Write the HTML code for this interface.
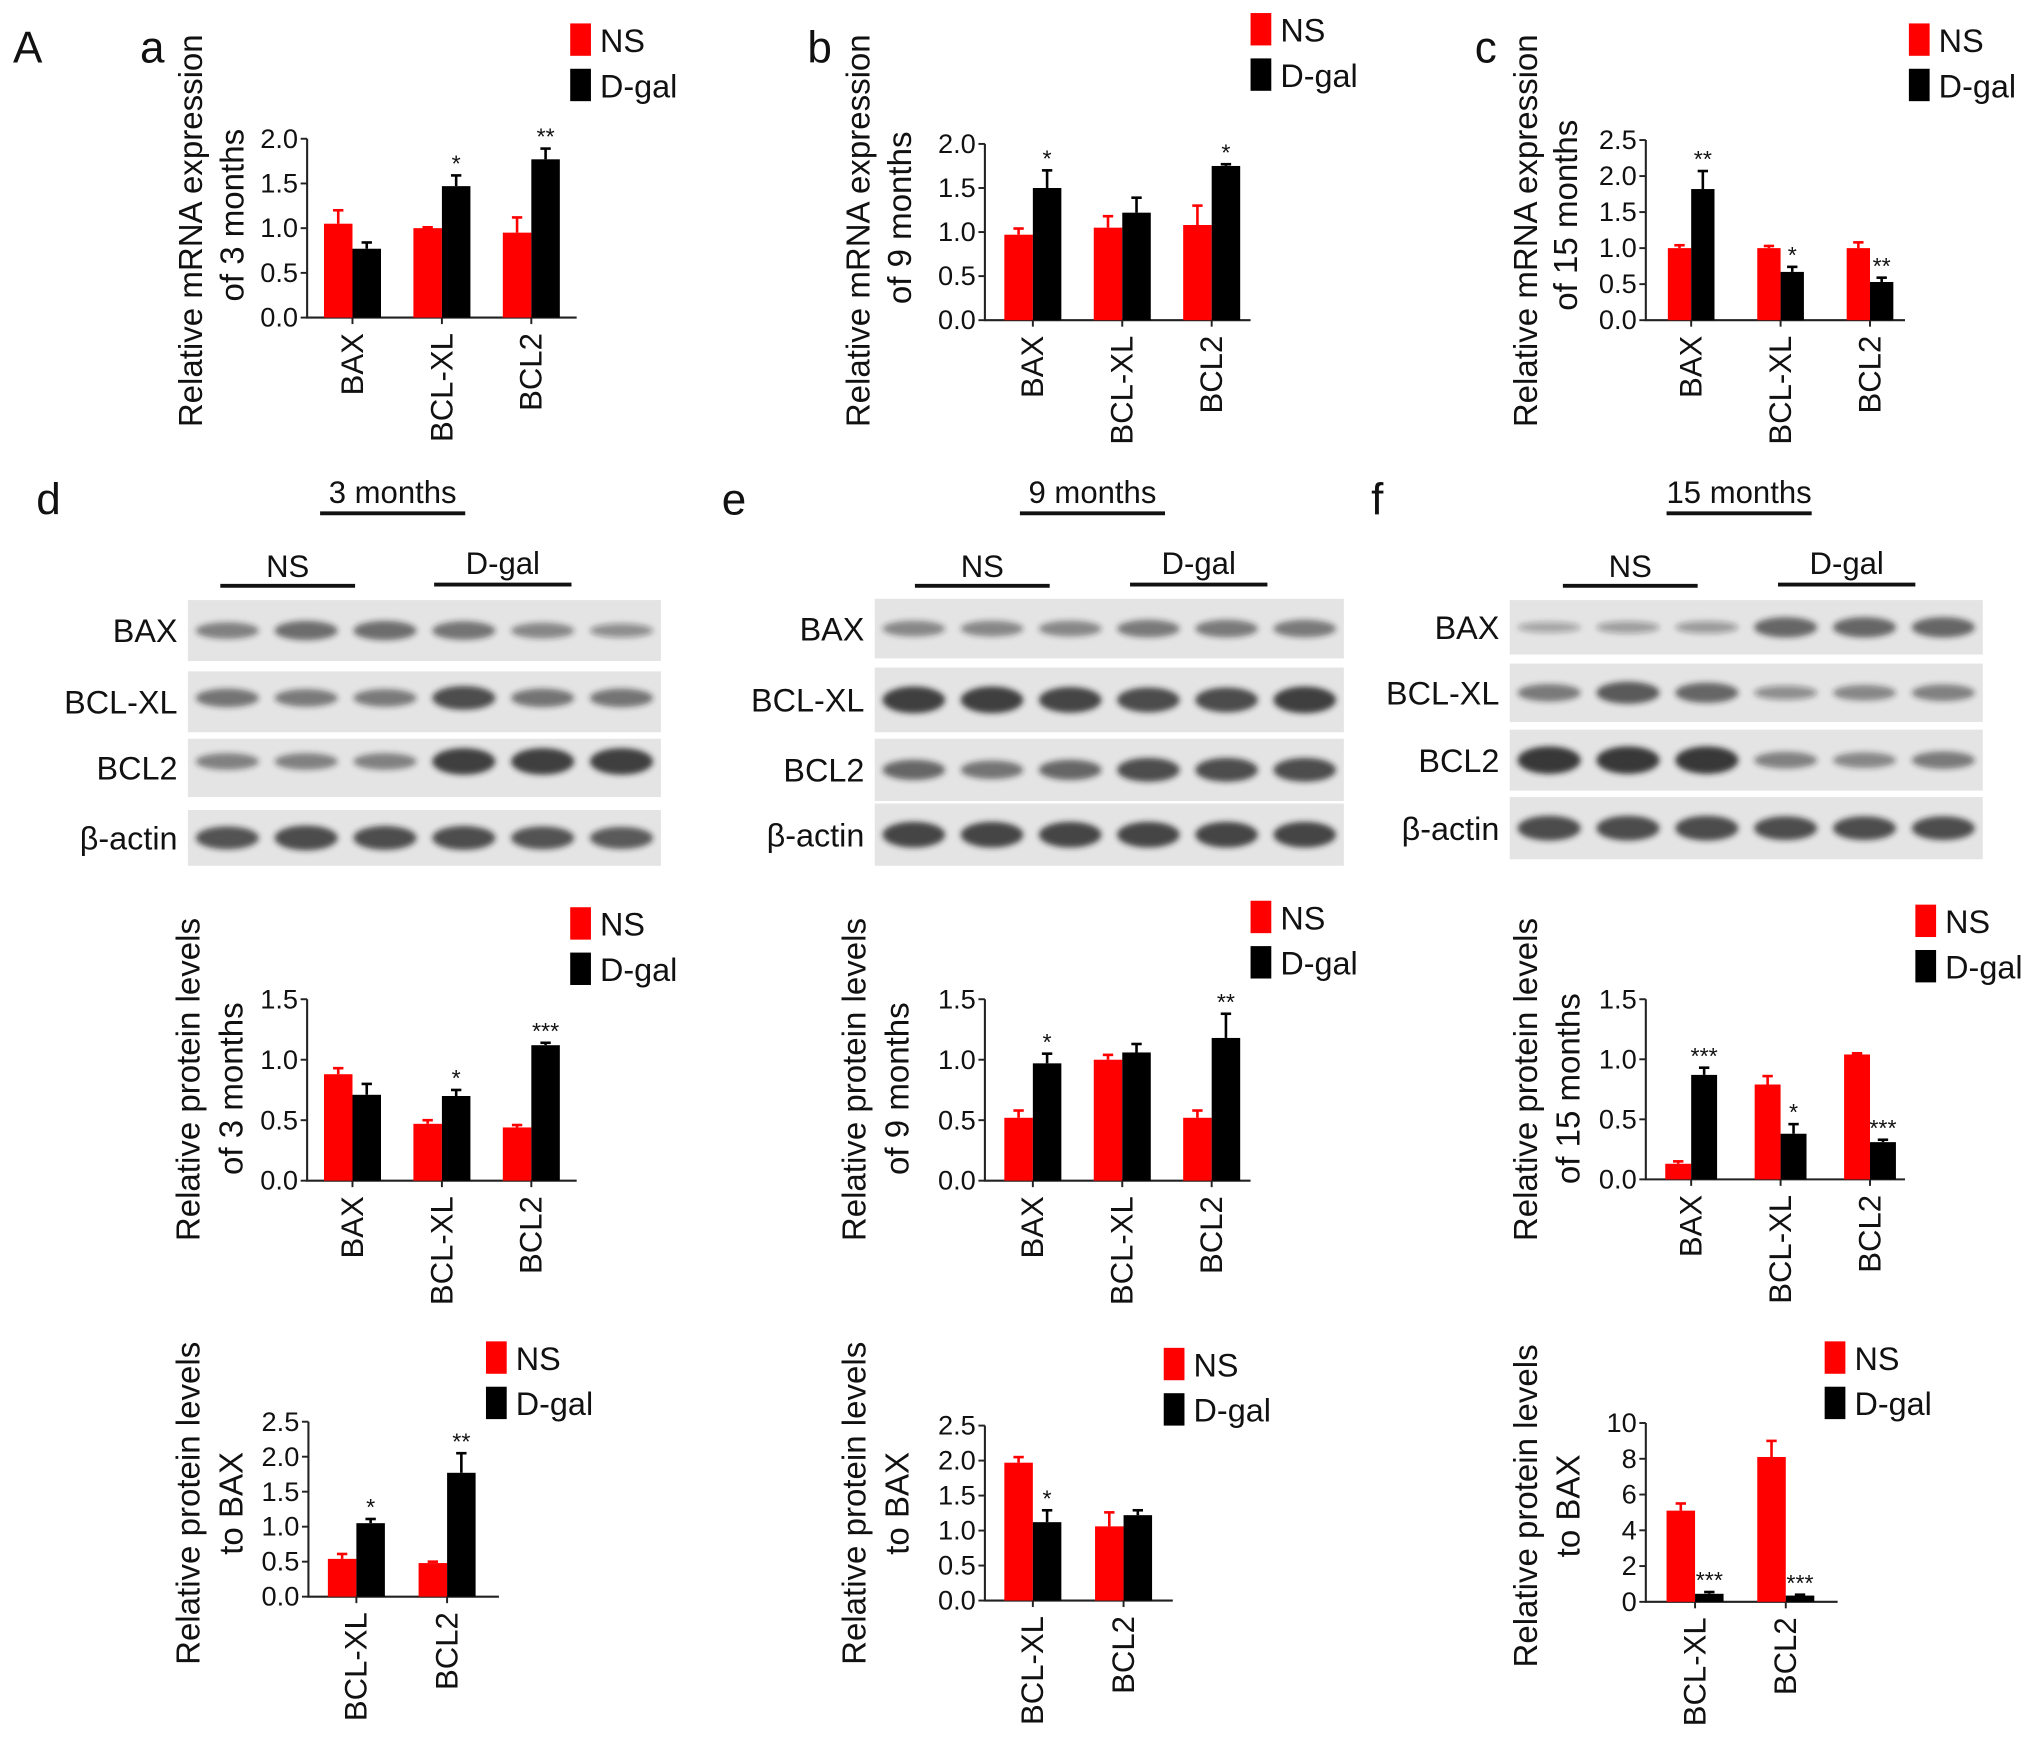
<!DOCTYPE html>
<html><head><meta charset="utf-8"><style>
html,body{margin:0;padding:0;background:#fff}
svg{display:block}
text{font-family:"Liberation Sans",Arial,sans-serif;fill:#111}
</style></head><body>
<svg id="fig" xmlns="http://www.w3.org/2000/svg" width="2032" height="1738" viewBox="0 0 1568 1341">
<defs><filter id="blur" x="-20%" y="-50%" width="140%" height="200%"><feGaussianBlur stdDeviation="2.2"/></filter></defs>
<g id="root"></g>
</svg>
<script>
// ---- data ----
const cats3 = ['BAX','BCL-XL','BCL2'];
const cats2 = ['BCL-XL','BCL2'];
const ticksMrna = [0,0.5,1.0,1.5,2.0];
const ticksMrnaC = [0,0.5,1.0,1.5,2.0,2.5];
const ticksProt = [0,0.5,1.0,1.5];
const ticksRatio = [0,0.5,1.0,1.5,2.0,2.5];
const ticksRatioF = [0,2,4,6,8,10];
// a
const nsA=[1.05,1.0,0.95], nsErrA=[0.15,0.01,0.17], dgA=[0.77,1.47,1.77], dgErrA=[0.07,0.12,0.12], starsA=['','*','**'];
// b
const nsB=[0.97,1.05,1.08], nsErrB=[0.07,0.13,0.22], dgB=[1.5,1.22,1.75], dgErrB=[0.2,0.17,0.02], starsB=['*','','*'];
// c
const nsC=[1.0,1.0,1.0], nsErrC=[0.04,0.03,0.08], dgC=[1.82,0.67,0.53], dgErrC=[0.25,0.07,0.06], starsC=['**','*','**'];
// d protein
const nsD=[0.88,0.47,0.44], nsErrD=[0.05,0.03,0.02], dgD=[0.71,0.70,1.12], dgErrD=[0.09,0.05,0.02], starsD=['','*','***'];
// e protein
const nsE=[0.52,1.0,0.52], nsErrE=[0.06,0.04,0.06], dgE=[0.97,1.06,1.18], dgErrE=[0.08,0.07,0.2], starsE=['*','','**'];
// f protein
const nsF=[0.13,0.79,1.04], nsErrF=[0.02,0.07,0.01], dgF=[0.87,0.38,0.31], dgErrF=[0.06,0.08,0.02], starsF=['***','*','***'];
// ratios
const nsRD=[0.54,0.48], nsErrRD=[0.07,0.02], dgRD=[1.05,1.77], dgErrRD=[0.06,0.28], starsRD=['*','**'];
const nsRE=[1.97,1.06], nsErrRE=[0.08,0.2], dgRE=[1.12,1.22], dgErrRE=[0.17,0.07], starsRE=['*',''];
const nsRF=[5.1,8.1], nsErrRF=[0.4,0.9], dgRF=[0.45,0.35], dgErrRF=[0.1,0.05], starsRF=['***','***'];

const NS='http://www.w3.org/2000/svg';
const root=document.getElementById('root');
function el(tag,attrs,parent,txt){const e=document.createElementNS(NS,tag);for(const k in attrs)e.setAttribute(k,attrs[k]);if(txt!==undefined)e.textContent=txt;(parent||root).appendChild(e);return e;}

function chart(name,L,cats,ns,nsErr,dg,dgErr,stars,ticks,titles){
  const g=el('g',{});
  
  
  const max=ticks[ticks.length-1];
  const y=v=>L.yBot-(v/max)*(L.yBot-L.yTop);
  const ax=el('path',{d:`M${L.x0} ${L.yTop}V${L.yBot}H${L.xEnd}`,stroke:'#222','stroke-width':1.6,fill:'none'},g);
  
  
  ticks.forEach(t=>{
    el('line',{x1:L.x0-5,x2:L.x0,y1:y(t),y2:y(t),stroke:'#222','stroke-width':1.5},g);
    const tl=el('text',{x:L.x0-7,y:y(t)+7,'text-anchor':'end','font-size':21,fill:'#333'},g,Number.isInteger(max)&&max>5?String(t):t.toFixed(1));
    
    
  });
  cats.forEach((c,i)=>{
    const cx=L.c0+i*L.sp;
    el('line',{x1:cx,x2:cx,y1:L.yBot,y2:L.yBot+5,stroke:'#222','stroke-width':1.5},g);
    const r=el('rect',{x:cx-L.bw,y:y(ns[i]),width:L.bw,height:L.yBot-y(ns[i]),fill:'#ff0000'},g);
    
    
    const b=el('rect',{x:cx,y:y(dg[i]),width:L.bw,height:L.yBot-y(dg[i]),fill:'#000'},g);
    
    
    [[cx-L.bw/2,ns[i],nsErr[i],'#ff0000'],[cx+L.bw/2,dg[i],dgErr[i],'#000']].forEach(([ex,v,e,col])=>{
      if(e>0.005){
        el('line',{x1:ex,x2:ex,y1:y(v),y2:y(v+e),stroke:col,'stroke-width':2},g);
        el('line',{x1:ex-4,x2:ex+4,y1:y(v+e),y2:y(v+e),stroke:col,'stroke-width':2},g);
      }
    });
    if(stars[i]){
      const s=el('text',{x:cx+L.bw/2,y:y(dg[i]+dgErr[i])-3,'text-anchor':'middle','font-size':18},g,stars[i]);
      
      
    }
    const cl=el('text',{transform:`translate(${cx+8},${L.yBot+12}) rotate(-90)`,'text-anchor':'end','font-size':24},g,c);
    
    
  });
  titles.forEach((t,k)=>{
    const tt=el('text',{transform:`translate(${L.tx[k]},${L.ty[k]}) rotate(-90)`,'text-anchor':'middle','font-size':25.5},g,t);
    
    
  });
  // legend
  const lg=el('g',{},g);
  
  
  el('rect',{x:L.lx,y:L.ly,width:16,height:25,fill:'#ff0000'},lg);
  el('text',{x:L.lx+23,y:L.ly+22,'font-size':25},lg,'NS');
  el('rect',{x:L.lx,y:L.ly+35,width:16,height:25,fill:'#000'},lg);
  el('text',{x:L.lx+23,y:L.ly+57,'font-size':25},lg,'D-gal');
}

chart('chart-a-mrna-3m',{x0:237,yTop:107,yBot:245,xEnd:445,c0:272,sp:69,bw:22,lx:440,ly:18,tx:[156,188],ty:[178,166]},cats3,nsA,nsErrA,dgA,dgErrA,starsA,ticksMrna,['Relative mRNA expression','of 3 months']);
chart('chart-b-mrna-9m',{x0:760,yTop:111,yBot:247,xEnd:965,c0:797,sp:69,bw:22,lx:965,ly:10,tx:[671,703],ty:[178,168]},cats3,nsB,nsErrB,dgB,dgErrB,starsB,ticksMrna,['Relative mRNA expression','of 9 months']);
chart('chart-c-mrna-15m',{x0:1270,yTop:108,yBot:247,xEnd:1470,c0:1305,sp:69,bw:18,lx:1473,ly:18,tx:[1186,1217],ty:[178,166]},cats3,nsC,nsErrC,dgC,dgErrC,starsC,ticksMrnaC,['Relative mRNA expression','of 15 months']);
chart('chart-d-protein-3m',{x0:237,yTop:771,yBot:911,xEnd:445,c0:272,sp:69,bw:22,lx:440,ly:700,tx:[154,187],ty:[833,840]},cats3,nsD,nsErrD,dgD,dgErrD,starsD,ticksProt,['Relative protein levels','of 3 months']);
chart('chart-e-protein-9m',{x0:760,yTop:771,yBot:911,xEnd:965,c0:797,sp:69,bw:22,lx:965,ly:695,tx:[668,701],ty:[833,840]},cats3,nsE,nsErrE,dgE,dgErrE,starsE,ticksProt,['Relative protein levels','of 9 months']);
chart('chart-f-protein-15m',{x0:1270,yTop:771,yBot:910,xEnd:1470,c0:1305,sp:69,bw:20,lx:1478,ly:698,tx:[1186,1219],ty:[833,840]},cats3,nsF,nsErrF,dgF,dgErrF,starsF,ticksProt,['Relative protein levels','of 15 months']);
chart('chart-d-ratio-bax',{x0:238,yTop:1097,yBot:1232,xEnd:385,c0:275,sp:70,bw:22,lx:375,ly:1035,tx:[154,187],ty:[1160,1160]},cats2,nsRD,nsErrRD,dgRD,dgErrRD,starsRD,ticksRatio,['Relative protein levels','to BAX']);
chart('chart-e-ratio-bax',{x0:760,yTop:1100,yBot:1235,xEnd:905,c0:797,sp:70,bw:22,lx:898,ly:1040,tx:[668,701],ty:[1160,1160]},cats2,nsRE,nsErrRE,dgRE,dgErrRE,starsRE,ticksRatio,['Relative protein levels','to BAX']);
chart('chart-f-ratio-bax',{x0:1270,yTop:1098,yBot:1236,xEnd:1418,c0:1308,sp:70,bw:22,lx:1408,ly:1035,tx:[1186,1219],ty:[1162,1162]},cats2,nsRF,nsErrRF,dgRF,dgErrRF,starsRF,ticksRatioF,['Relative protein levels','to BAX']);

// panel letters
[['A',10,48,34],['a',108,48,34],['b',623,48,34],['c',1138,48,34],['d',28,397,34],['e',557,397,34],['f',1058,397,34]].forEach(([t,x,yy,fs])=>{
  const p=el('text',{x:x,y:yy,'font-size':fs},root,t);
  
  
});

// western blots (image content)
function blot(name,L,intens){
  const g=el('g',{});
  
  
  el('text',{x:L.tc,y:388,'text-anchor':'middle','font-size':24},g,L.title);
  el('line',{x1:L.tc-56,x2:L.tc+56,y1:396,y2:396,stroke:'#111','stroke-width':3},g);
  el('text',{x:L.nsC,y:445,'text-anchor':'middle','font-size':24},g,'NS');
  el('line',{x1:L.nsC-52,x2:L.nsC+52,y1:452,y2:452,stroke:'#111','stroke-width':3},g);
  el('text',{x:L.dgC,y:443,'text-anchor':'middle','font-size':24},g,'D-gal');
  el('line',{x1:L.dgC-53,x2:L.dgC+53,y1:451,y2:451,stroke:'#111','stroke-width':3},g);
  const names=['BAX','BCL-XL','BCL2','\u03b2-actin'];
  L.rows.forEach((r,ri)=>{
    el('rect',{x:L.x0,y:r[0],width:L.x1-L.x0,height:r[1]-r[0],fill:'#e4e4e4'},g);
    const lbl=el('text',{x:L.x0-8,y:(r[0]+r[1])/2+9,'text-anchor':'end','font-size':25},g,names[ri]);
    
    
    const lw=(L.x1-L.x0)/6;
    for(let k=0;k<6;k++){
      const a=intens[ri][k];
      const cx=L.x0+lw*(k+0.5), cy=(r[0]+r[1])/2+(r[2]||0);
      el('ellipse',{cx:cx,cy:cy,rx:lw*0.4,ry:4+a*7,fill:`rgba(30,30,30,${0.3+a*0.6})`,filter:'url(#blur)'},g);
    }
  });
}
blot('western-blot-3m',{title:'3 months',tc:303,nsC:222,dgC:388,x0:145,x1:510,rows:[[463,510,0],[518,565,-3],[570,615,-5],[625,668,0]]},
 [[0.35,0.5,0.5,0.45,0.3,0.2],[0.45,0.4,0.4,0.75,0.45,0.45],[0.35,0.35,0.35,0.9,0.9,0.9],[0.7,0.8,0.75,0.75,0.7,0.65]]);
blot('western-blot-9m',{title:'9 months',tc:843,nsC:758,dgC:925,x0:675,x1:1037,rows:[[462,508,0],[515,565,0],[570,618,0],[620,668,0]]},
 [[0.3,0.3,0.3,0.4,0.4,0.4],[0.9,0.9,0.85,0.8,0.8,0.9],[0.55,0.45,0.55,0.75,0.75,0.75],[0.85,0.85,0.85,0.85,0.85,0.85]]);
blot('western-blot-15m',{title:'15 months',tc:1342,nsC:1258,dgC:1425,x0:1165,x1:1530,rows:[[463,505,0],[512,557,0],[563,610,0],[615,663,0]]},
 [[0.02,0.08,0.1,0.55,0.55,0.55],[0.4,0.65,0.55,0.2,0.3,0.35],[0.95,0.95,0.95,0.35,0.3,0.4],[0.8,0.8,0.8,0.75,0.75,0.75]]);
</script>
</body></html>
